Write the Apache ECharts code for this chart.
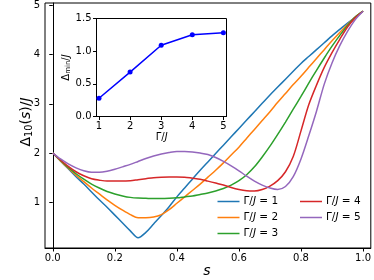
<!DOCTYPE html>
<html>
<head>
<meta charset="utf-8">
<script src="https://cdn.jsdelivr.net/npm/echarts@6/dist/echarts.min.js"></script>
<style>html,body{margin:0;padding:0;background:#fff}#c{width:374px;height:280px}</style>
</head>
<body>
<div id="c"></div>
<script>
var S = [0,0.025,0.05,0.075,0.1,0.125,0.15,0.175,0.2,0.225,0.25,0.275,0.3,0.325,0.35,0.375,0.4,0.425,0.45,0.475,0.5,0.525,0.55,0.575,0.6,0.625,0.65,0.675,0.7,0.725,0.75,0.775,0.8,0.825,0.85,0.875,0.9,0.925,0.95,0.975,1.0];
var gap1 = [2.00,1.84,1.68,1.52,1.37,1.21,1.05,0.90,0.74,0.58,0.42,0.28,0.39,0.56,0.73,0.91,1.11,1.29,1.47,1.65,1.82,1.99,2.16,2.33,2.50,2.67,2.84,3.01,3.18,3.34,3.50,3.66,3.82,3.96,4.10,4.24,4.38,4.51,4.64,4.76,4.88];
var gap2 = [2.00,1.84,1.69,1.55,1.42,1.29,1.17,1.05,0.94,0.84,0.75,0.685,0.685,0.70,0.75,0.85,0.98,1.11,1.24,1.37,1.51,1.65,1.80,1.96,2.12,2.30,2.48,2.66,2.84,3.03,3.21,3.39,3.56,3.74,3.92,4.10,4.28,4.45,4.61,4.76,4.88];
var gap3 = [2.00,1.85,1.71,1.58,1.47,1.37,1.29,1.22,1.17,1.13,1.10,1.085,1.08,1.075,1.075,1.08,1.09,1.11,1.13,1.16,1.19,1.23,1.28,1.35,1.44,1.56,1.72,1.92,2.14,2.38,2.63,2.89,3.15,3.42,3.68,3.93,4.17,4.39,4.59,4.76,4.88];
var gap4 = [2.00,1.86,1.73,1.62,1.54,1.48,1.45,1.43,1.43,1.43,1.44,1.46,1.48,1.50,1.51,1.515,1.515,1.51,1.49,1.47,1.43,1.39,1.35,1.30,1.26,1.235,1.23,1.26,1.33,1.44,1.62,1.93,2.45,2.98,3.38,3.74,4.04,4.31,4.56,4.75,4.88];
var gap5 = [2.00,1.88,1.78,1.70,1.64,1.61,1.61,1.63,1.67,1.72,1.77,1.83,1.89,1.94,1.98,2.01,2.03,2.03,2.02,2.00,1.97,1.91,1.83,1.74,1.64,1.53,1.43,1.35,1.29,1.26,1.32,1.52,1.88,2.35,2.85,3.40,3.83,4.18,4.47,4.71,4.88];
var seriesNames = ['Γ/J = 1','Γ/J = 2','Γ/J = 3','Γ/J = 4','Γ/J = 5'];
var colors = ['#1f77b4','#ff7f0e','#2ca02c','#d62728','#9467bd'];
var xTicks = [0,0.2,0.4,0.6,0.8,1.0];
var yTicks = [1,2,3,4,5];
var G = [1,2,3,4,5];
var dmin = [0.28,0.68,1.09,1.25,1.28];
var insetXTicks = [1,2,3,4,5];

var FF = 'DejaVu Sans';
var all = [gap1,gap2,gap3,gap4,gap5];
var series = all.map(function(arr,i){
  return {
    name: seriesNames[i], type:'line', xAxisIndex:0, yAxisIndex:0,
    data: S.map(function(s,j){return [s,arr[j]];}),
    symbol:'none', smooth:0.3, color: colors[i],
    lineStyle:{width:1.5, color:colors[i]}, z:3
  };
});
series.push({
  type:'line', xAxisIndex:1, yAxisIndex:1,
  data: G.map(function(g,i){return [g,dmin[i]];}),
  symbol:'circle', symbolSize:5, color:'#0000ff',
  lineStyle:{width:1.5,color:'#0000ff'}, itemStyle:{color:'#0000ff'}, z:5
});
var legRich = {a:{fontFamily:FF,fontSize:10.5,color:'#000',lineHeight:11},
               i:{fontFamily:FF,fontSize:10.5,fontStyle:'italic',color:'#000',lineHeight:11}};
function legFmt(n){ var num=n.slice(-1); return '{a|Γ/}{i|J}{a| = '+num+'}'; }
var axisLineStyle = {color:'#000', width:1};
var legCommon = {orient:'vertical', top:196, padding:0, icon:'rect',
     itemWidth:22, itemHeight:1.5, itemGap:5, formatter:legFmt,
     textStyle:{rich:legRich, padding:[0,0,0,-1]}};
var chart = echarts.init(document.getElementById('c'), null, {renderer:'canvas'});
chart.setOption({
  animation:false,
  backgroundColor:'#fff',
  grid:[
    {left:45, top:3, right:3, bottom:32, show:true, borderColor:'#000', borderWidth:1, backgroundColor:'transparent'},
    {left:96.5, top:18.5, width:130, height:98, show:true, borderColor:'#000', borderWidth:1, backgroundColor:'#fff', z:4}
  ],
  xAxis:[
    {type:'value', gridIndex:0, min:-0.025, max:1.025,
     axisLine:{show:true,lineStyle:axisLineStyle},
     axisTick:{show:true,length:3.5,lineStyle:axisLineStyle,customValues:xTicks},
     axisLabel:{show:true,margin:5,fontFamily:FF,fontSize:10,color:'#000',customValues:xTicks,formatter:function(v){return v.toFixed(1);}},
     splitLine:{show:false}},
    {type:'value', gridIndex:1, min:0.92, max:5.1, z:5,
     axisLine:{show:true,lineStyle:axisLineStyle},
     axisTick:{show:true,length:3.5,lineStyle:axisLineStyle,customValues:insetXTicks},
     axisLabel:{show:true,margin:5,fontFamily:FF,fontSize:10,color:'#000',customValues:insetXTicks},
     splitLine:{show:false}}
  ],
  yAxis:[
    {type:'value', gridIndex:0, min:0.072, max:5.047,
     axisLine:{show:true,lineStyle:axisLineStyle},
     axisTick:{show:true,length:3.5,lineStyle:axisLineStyle,customValues:yTicks},
     axisLabel:{show:true,margin:5,fontFamily:FF,fontSize:10,color:'#000',customValues:yTicks},
     splitLine:{show:false}},
    {type:'value', gridIndex:1, min:0, max:1.5, interval:0.5, z:5,
     axisLine:{show:true,lineStyle:axisLineStyle},
     axisTick:{show:true,length:3.5,lineStyle:axisLineStyle},
     axisLabel:{show:true,margin:5,fontFamily:FF,fontSize:10,color:'#000',formatter:function(v){return v.toFixed(1);}},
     splitLine:{show:false}}
  ],
  legend:[
    Object.assign({data:seriesNames.slice(0,3), left:217.5}, legCommon),
    Object.assign({data:seriesNames.slice(3,5), left:300}, legCommon)
  ],
  graphic:[
    {type:'text', x:26, y:122, rotation:Math.PI/2, z:10,
     style:{text:'{n|Δ}{sub|10}{n|(}{i|s}{n|)/}{i|J}', align:'center', verticalAlign:'middle',
       rich:{n:{fontFamily:FF,fontSize:14,color:'#000'},
             i:{fontFamily:FF,fontSize:14,fontStyle:'italic',color:'#000'},
             sub:{fontFamily:FF,fontSize:9.8,color:'#000',padding:[7,0,0,0]}}}},
    {type:'text', x:207, y:271.5, z:10,
     style:{text:'s', align:'center', verticalAlign:'middle', fontFamily:FF, fontSize:14, fontStyle:'italic', fill:'#000'}},
    {type:'text', x:66, y:67.5, rotation:Math.PI/2, z:10,
     style:{text:'{n|Δ}{sub|min}{n|/}{i|J}', align:'center', verticalAlign:'middle',
       rich:{n:{fontFamily:FF,fontSize:10,color:'#000'},
             i:{fontFamily:FF,fontSize:10,fontStyle:'italic',color:'#000'},
             sub:{fontFamily:FF,fontSize:7,color:'#000',padding:[5,0,0,0]}}}},
    {type:'text', x:161.7, y:137, z:10,
     style:{text:'{n|Γ/}{i|J}', align:'center', verticalAlign:'middle',
       rich:{n:{fontFamily:FF,fontSize:10,color:'#000'},
             i:{fontFamily:FF,fontSize:10,fontStyle:'italic',color:'#000'}}}}
  ],
  series: series
});
</script>
</body>
</html>
